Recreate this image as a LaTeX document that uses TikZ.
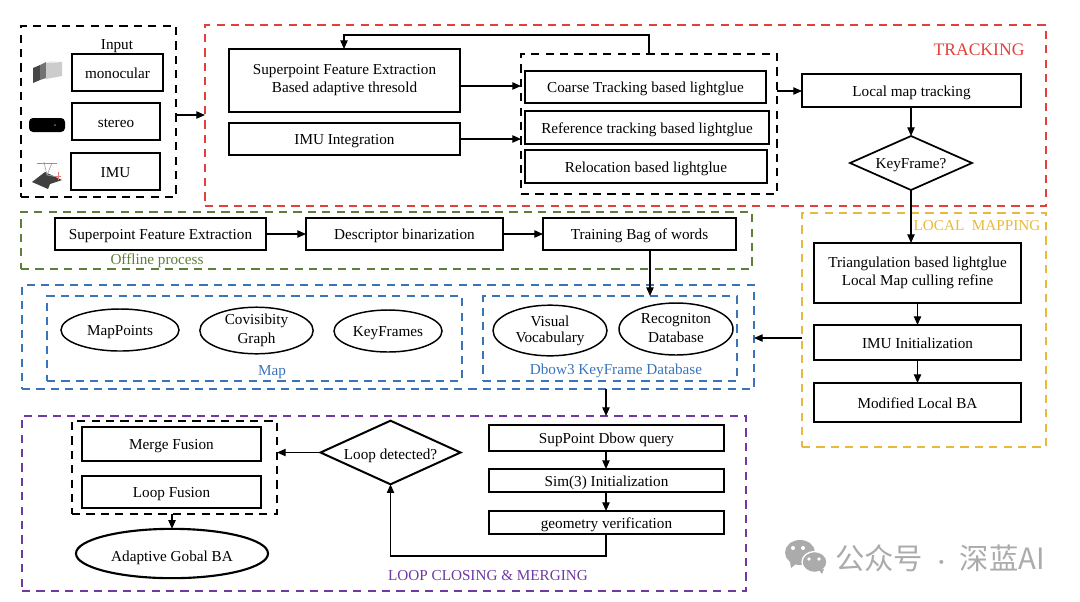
\documentclass[tikz,border=0pt]{standalone}
\usepackage{fontspec}
\setmainfont{Liberation Serif}
\newfontfamily\cjkfont{Noto Sans CJK SC}
\usetikzlibrary{arrows.meta,shapes.geometric,calc}
\definecolor{tred}{HTML}{E2403A}
\definecolor{tgreen}{HTML}{5E7F3A}
\definecolor{tblue}{HTML}{3A74B8}
\definecolor{tyellow}{HTML}{E8B93C}
\definecolor{tpurple}{HTML}{6F3AA0}
\definecolor{wm}{HTML}{ABABAB}
\newcommand{\topstrut}{\rule{0pt}{11.5pt}}
\newcommand{\botstrut}{\rule[-3pt]{0pt}{3pt}}
\tikzset{
  x=0.75pt,y=-0.75pt,
  every node/.style={inner sep=0pt,outer sep=0pt,font=\fontsize{11.4pt}{13.5pt}\selectfont,align=center,execute at begin node={\topstrut},execute at end node={\botstrut}},
  bstyle/.style={draw=black,line width=1.5pt,fill=white},
  estyle/.style={ellipse,draw=black,line width=1.1pt,fill=white},
  ebold/.style={ellipse,draw=black,line width=1.6pt,fill=white},
  dstyle/.style={diamond,draw=black,line width=1.3pt,fill=white,aspect=2.2},
  groupbox/.style={dash pattern=on 6.2pt off 4.6pt,line width=1.3pt},
  conn/.style={draw=black,line width=0.9pt,-{Triangle[length=6.5pt,width=5.5pt]}},
}
\newcommand{\bx}[7][bstyle]{%
  \pgfmathsetmacro\bw{(#4-#2)*0.75}\pgfmathsetmacro\bh{(#5-#3)*0.75}%
  \node[#1,minimum width=\bw pt,minimum height=\bh pt] (#7) at ({(#2+#4)/2},{(#3+#5)/2}) {#6};}
\begin{document}
\begin{tikzpicture}
\useasboundingbox (0,0) rectangle (1080,601);
% group frames
\bx[groupbox,draw=black]{21}{26}{176}{197}{}{gInput}
\bx[groupbox,draw=tred]{205}{25}{1046}{206}{}{gTrack}
\bx[groupbox,draw=black]{521}{54}{777}{194}{}{gInner}
\bx[groupbox,draw=tgreen]{21}{212}{752}{269}{}{gOffline}
\bx[groupbox,draw=tblue]{22}{285}{754}{389}{}{gBlue}
\bx[groupbox,draw=tblue]{47}{296}{462}{381}{}{gMap}
\bx[groupbox,draw=tblue]{483}{296}{737}{381}{}{gDbow}
\bx[groupbox,draw=tyellow]{802}{213}{1046}{447}{}{gLocal}
\bx[groupbox,draw=tpurple]{22}{416}{746}{591}{}{gLoop}
\bx[groupbox,draw=black]{72}{421}{277}{514}{}{gFusion}
% input
\node (tInput) at (117,44) {Input};
\bx{72}{54}{163}{91}{monocular}{mono}
\bx{72}{103}{160}{140}{stereo}{stereo}
\bx{71}{153}{160}{190}{IMU}{imu}
% tracking
\node[text=tred,font=\fontsize{13.2pt}{15pt}\selectfont] (tTrack) at (979,50) {TRACKING};
\bx{229}{49}{460}{112}{Superpoint Feature Extraction\\Based adaptive thresold}{sp}
\bx{229}{123}{460}{155}{IMU Integration}{imuint}
\bx{525}{71}{766}{103}{Coarse Tracking based lightglue}{coarse}
\bx{525}{111}{769}{144}{Reference tracking based lightglue}{ref}
\bx{525}{150}{767}{183}{Relocation based lightglue}{reloc}
\bx{802}{74}{1021}{107}{Local map tracking}{lmt}
\node[dstyle,minimum width=91.5pt,minimum height=40.5pt] (kf) at (911,163) {KeyFrame?};
% offline
\bx{55}{218}{266}{250}{Superpoint Feature Extraction}{off1}
\bx{306}{218}{503}{250}{Descriptor binarization}{off2}
\bx{543}{218}{736}{250}{Training Bag of words}{off3}
\node[text=tgreen] (tOff) at (157,259) {Offline process};
% map
\node[estyle,minimum width=88.5pt,minimum height=31.5pt] (e1) at (120,330) {MapPoints};
\node[estyle,minimum width=85pt,minimum height=32pt] (e2) at (256.5,330.5) {\raisebox{-1.5pt}{\shortstack{Covisibity\\[1pt]Graph}}};
\node[estyle,minimum width=81pt,minimum height=31.5pt] (e3) at (388,331) {KeyFrames};
\node[estyle,minimum width=85.5pt,minimum height=38pt] (e4) at (550,330.5) {\raisebox{-1.5pt}{\shortstack{Visual\\[1pt]Vocabulary}}};
\node[estyle,minimum width=85.5pt,minimum height=39pt] (e5) at (676,329) {\raisebox{-1pt}{\shortstack{Recogniton\\[1pt]Database}}};
\node[text=tblue] (tMap) at (272,370) {Map};
\node[text=tblue] (tDbow) at (616,369) {Dbow3 KeyFrame Database};
% local mapping
\node[text=tyellow] (tLocal) at (977,225) {LOCAL\ \ MAPPING};
\bx{814}{243}{1021}{303}{Triangulation based lightglue\\Local Map culling refine}{tri}
\bx{814}{325}{1021}{360}{IMU Initialization}{imuinit}
\bx{814}{383}{1021}{422}{Modified Local BA}{mlba}
% loop
\bx{82}{427}{261}{461}{Merge Fusion}{merge}
\bx{82}{476}{261}{508}{Loop Fusion}{loopf}
\node[ebold,minimum width=144pt,minimum height=37pt] (aba) at (172,553.5) {\raisebox{-2.5pt}{Adaptive Gobal BA}};
\node[dstyle,line width=1.5pt,minimum width=104pt,minimum height=46pt] (ld) at (390.5,452.5) {\raisebox{-2pt}{Loop detected?}};
\bx{489}{425}{724}{451}{SupPoint Dbow query}{q1}
\bx{489}{469}{724}{492}{Sim(3) Initialization}{q2}
\bx{489}{511}{724}{534}{geometry verification}{q3}
\node[text=tpurple] (tLoop) at (488,575) {LOOP CLOSING \& MERGING};
% connectors
\coordinate (c1) at (649,35);
\coordinate (c2) at (344,35);
\coordinate (c3) at (606,556);
\draw[conn] (gInput.east |- 0,115) -- (gTrack.west |- 0,115);
\draw[conn] (gInner.north -| c1) -- (c1) -- (c2) -- (sp.north -| c2);
\draw[conn] (sp.east |- 0,86) -- (gInner.west |- 0,86);
\draw[conn] (imuint.east |- 0,139) -- (gInner.west |- 0,139);
\draw[conn] (gInner.east |- 0,91) -- (lmt.west |- 0,91);
\draw[conn] (lmt.south -| kf) -- (kf.north);
\draw[conn] (kf.south) -- (tri.north -| kf);
\draw[conn] (off1) -- (off2);
\draw[conn] (off2) -- (off3);
\draw[conn] (off3.south -| 650,0) -- (gDbow.north -| 650,0);
\draw[conn] (tri.south) -- (imuinit.north);
\draw[conn] (imuinit) -- (mlba);
\draw[conn] (gLocal.west |- 0,338) -- (gBlue.east |- 0,338);
\draw[conn] (gBlue.south -| c3) -- (gLoop.north -| c3);
\draw[conn] (q1.south -| c3) -- (q2.north -| c3);
\draw[conn] (q2.south -| c3) -- (q3.north -| c3);
\draw[conn] (q3.south -| c3) -- (c3) -- (c3 -| ld) -- (ld.south);
\draw[conn] (ld.west) -- (gFusion.east |- ld);
\draw[conn] (gFusion.south -| aba) -- (aba.north);
% icons
\fill[black!72] (33,68) -- (40,65) -- (40,80) -- (33,83) -- cycle;
\fill[black!55] (40,65) -- (46,62) -- (46,78) -- (40,80) -- cycle;
\fill[black!20] (46,63) -- (62,62) -- (62,76) -- (46,79) -- cycle;
\fill[black!8] (46,63) -- (50,61) -- (62,62) -- cycle;
\fill[black,rounded corners=3pt] (29,118) rectangle (65,132);
\fill[black!55] (55,125) circle (1);
\fill[black!75] (32,182) -- (45,172) -- (62,180) -- (50,184) -- (48,189) -- cycle;
\draw[draw=black!35,line width=0.5pt] (47,175) -- (44,162) (47,175) -- (52,163) (47,175) -- (58,177);
\draw[draw=tyellow!80!black,line width=0.5pt] (37,163) -- (57,163);
\draw[draw=tred!70,line width=0.5pt] (55,176) -- (61,176) (58,172) -- (58,180);
% watermark
\fill[wm] (800,552.5) ellipse [x radius=15,y radius=12.5];
\fill[wm] (790,562) -- (796,564) -- (791,568) -- cycle;
\draw[white,line width=1pt,fill=wm] (814.5,562) ellipse [x radius=12.5,y radius=10.5];
\fill[wm] (819,570) -- (824,569) -- (822,574) -- cycle;
\fill[white] (793,548) circle [radius=2] (803,548) circle [radius=2] (809,559) circle [radius=1.8] (819,559) circle [radius=1.8];
\node[text=wm,anchor=west,execute at begin node={},execute at end node={},font=\fontsize{22pt}{24pt}\cjkfont] (wmt) at (835,559) {公众号\makebox[27.5pt][c]{\fontsize{14pt}{16pt}\selectfont ·}深蓝AI};
\end{tikzpicture}
\end{document}
